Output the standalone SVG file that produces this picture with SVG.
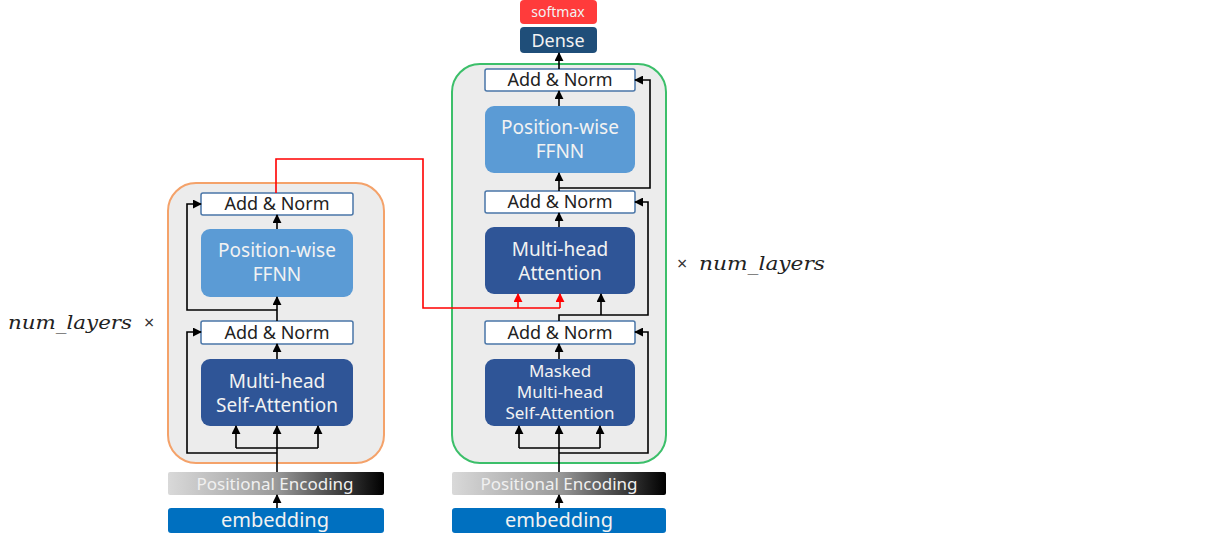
<svg xmlns="http://www.w3.org/2000/svg" width="1223" height="547" viewBox="0 0 1223 547">
<style>
.frame{fill:#ececec;stroke-width:2}
.an{fill:#fff;stroke:#4a76a8;stroke-width:1.5}
.ant{font-family:"Noto Sans","Open Sans",sans-serif;font-size:18px;fill:#222;text-anchor:middle}
.ff{fill:#5b9bd5}
.mh{fill:#2f5597}
.wt{font-family:"Noto Sans","Open Sans",sans-serif;font-size:19px;fill:#f2f2f2;text-anchor:middle}
.emb{fill:#0070c0}
.pe{fill:url(#peg)}
.pet{font-family:"Noto Sans","Open Sans",sans-serif;font-size:17px;fill:#f0f0f0;text-anchor:middle}
.c{fill:none;stroke:#000;stroke-width:1.6}
.r{fill:none;stroke:#ff0000;stroke-width:1.6}
.math{font-family:"DejaVu Serif","Liberation Serif",serif;font-style:italic;font-size:19px;fill:#222}
.times{font-family:"Noto Sans",sans-serif;font-size:18px;fill:#333}
</style>
<defs>
<linearGradient id="peg" x1="0" y1="0" x2="1" y2="0">
<stop offset="0" stop-color="#d9d9d9"/>
<stop offset="0.5" stop-color="#9a9a9a"/>
<stop offset="1" stop-color="#000"/>
</linearGradient>
<marker id="ah" viewBox="0 0 10 10" refX="9" refY="5" markerWidth="9" markerHeight="9" markerUnits="userSpaceOnUse" orient="auto">
<path d="M0,0 L10,5 L0,10 z" fill="#000"/>
</marker>
<marker id="ahr" viewBox="0 0 10 10" refX="9" refY="5" markerWidth="9" markerHeight="9" markerUnits="userSpaceOnUse" orient="auto">
<path d="M0,0 L10,5 L0,10 z" fill="#ff0000"/>
</marker>
</defs>
<rect width="1223" height="547" fill="#fff"/>

<g id="encoder-frame"><rect class="frame" x="168" y="183" width="216" height="280" rx="28" stroke="#f4a26a"/></g>
<g id="decoder-frame"><rect class="frame" x="452" y="64" width="214" height="399" rx="28" stroke="#3cbf6a"/></g>

<g id="enc-addnorm2"><rect class="an" x="201" y="193" width="152" height="22" rx="2"/><text class="ant" x="277" y="210">Add &amp; Norm</text></g>
<g id="enc-ffnn"><rect class="ff" x="201" y="229" width="152" height="68" rx="9"/><text class="wt" x="277" y="257">Position-wise</text><text class="wt" x="277" y="281">FFNN</text></g>
<g id="enc-addnorm1"><rect class="an" x="201" y="321" width="152" height="23" rx="2"/><text class="ant" x="277" y="339">Add &amp; Norm</text></g>
<g id="enc-mhsa"><rect class="mh" x="201" y="359" width="152" height="67" rx="9"/><text class="wt" x="277" y="388">Multi-head</text><text class="wt" x="277" y="412">Self-Attention</text></g>
<g id="enc-pe"><rect class="pe" x="168" y="472" width="216" height="23" rx="2"/><text class="pet" x="275" y="490">Positional Encoding</text></g>
<g id="enc-emb"><rect class="emb" x="168" y="508" width="216" height="25" rx="3"/><text class="wt" x="275" y="527" style="font-size:20px">embedding</text></g>

<g id="dec-addnorm3"><rect class="an" x="485" y="69" width="150" height="22" rx="2"/><text class="ant" x="560" y="86">Add &amp; Norm</text></g>
<g id="dec-ffnn"><rect class="ff" x="485" y="106" width="150" height="67" rx="9"/><text class="wt" x="560" y="134">Position-wise</text><text class="wt" x="560" y="158">FFNN</text></g>
<g id="dec-addnorm2"><rect class="an" x="485" y="191" width="150" height="22" rx="2"/><text class="ant" x="560" y="208">Add &amp; Norm</text></g>
<g id="dec-mha"><rect class="mh" x="485" y="227" width="150" height="67" rx="9"/><text class="wt" x="560" y="256">Multi-head</text><text class="wt" x="560" y="280">Attention</text></g>
<g id="dec-addnorm1"><rect class="an" x="485" y="321" width="150" height="23" rx="2"/><text class="ant" x="560" y="339">Add &amp; Norm</text></g>
<g id="dec-mmha"><rect class="mh" x="485" y="359" width="150" height="67" rx="9"/><text class="wt" x="560" y="377" style="font-size:17px">Masked</text><text class="wt" x="560" y="398" style="font-size:17px">Multi-head</text><text class="wt" x="560" y="419" style="font-size:17px">Self-Attention</text></g>
<g id="dec-pe"><rect class="pe" x="452" y="472" width="214" height="23" rx="2"/><text class="pet" x="559" y="490">Positional Encoding</text></g>
<g id="dec-emb"><rect class="emb" x="452" y="508" width="214" height="25" rx="3"/><text class="wt" x="559" y="527" style="font-size:20px">embedding</text></g>

<g id="dense"><rect x="520" y="27" width="77" height="26" rx="4" fill="#1f4e79"/><text class="wt" x="558" y="47" style="font-size:18px">Dense</text></g>
<g id="softmax"><rect x="520" y="0" width="77" height="24" rx="4" fill="#ff3b3b"/><text class="wt" x="558" y="17" style="font-size:14px">softmax</text></g>

<g id="labels">
<text class="math" x="8" y="329" textLength="124" lengthAdjust="spacingAndGlyphs">num_layers</text><text class="times" x="144" y="329">×</text>
<text class="times" x="677" y="270">×</text><text class="math" x="699" y="270" textLength="126" lengthAdjust="spacingAndGlyphs">num_layers</text>
</g>

<g id="connectors">
<path class="c" d="M277,508 V495" marker-end="url(#ah)"/>
<path class="c" d="M277,472 V426" marker-end="url(#ah)"/>
<path class="c" d="M236,448 H318"/>
<path class="c" d="M236,448 V426" marker-end="url(#ah)"/>
<path class="c" d="M318,448 V426" marker-end="url(#ah)"/>
<path class="c" d="M277,453 H187 V332 H201" marker-end="url(#ah)"/>
<path class="c" d="M277,359 V344" marker-end="url(#ah)"/>
<path class="c" d="M277,321 V297" marker-end="url(#ah)"/>
<path class="c" d="M277,310 H187 V204 H201" marker-end="url(#ah)"/>
<path class="c" d="M277,229 V215" marker-end="url(#ah)"/>
<path class="c" d="M559,508 V495" marker-end="url(#ah)"/>
<path class="c" d="M559,472 V426" marker-end="url(#ah)"/>
<path class="c" d="M519,448 H600"/>
<path class="c" d="M519,448 V426" marker-end="url(#ah)"/>
<path class="c" d="M600,448 V426" marker-end="url(#ah)"/>
<path class="c" d="M559,453 H648 V332 H635" marker-end="url(#ah)"/>
<path class="c" d="M559,359 V344" marker-end="url(#ah)"/>
<path class="c" d="M559,321 V315 H648 V202 H635" marker-end="url(#ah)"/>
<path class="c" d="M601,315 V294" marker-end="url(#ah)"/>
<path class="c" d="M559,227 V213" marker-end="url(#ah)"/>
<path class="c" d="M559,191 V173" marker-end="url(#ah)"/>
<path class="c" d="M559,188 H650 V80 H635" marker-end="url(#ah)"/>
<path class="c" d="M559,106 V91" marker-end="url(#ah)"/>
<path class="c" d="M559,69 V53" marker-end="url(#ah)"/>
<path class="r" d="M276,193 V159 H423 V308 H560"/>
<path class="r" d="M518,308 V294" marker-end="url(#ahr)"/>
<path class="r" d="M560,308 V294" marker-end="url(#ahr)"/>
</g>
</svg>
